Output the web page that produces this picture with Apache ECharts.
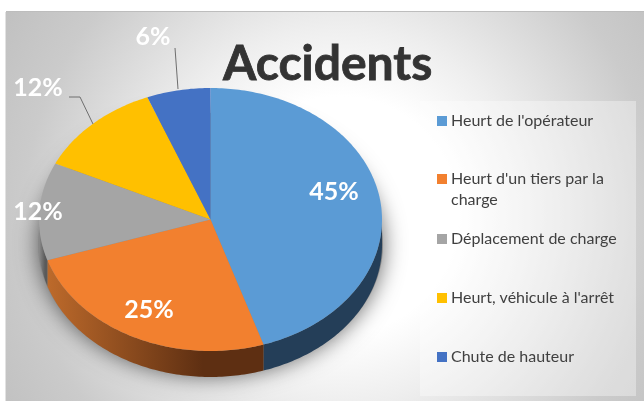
<!DOCTYPE html>
<html lang="fr">
  <head>
    <meta charset="UTF-8" />
    <title>Accidents</title>
    <script src="https://cdn.jsdelivr.net/npm/echarts@6/dist/echarts.min.js"></script>
    <style>
      html, body { margin: 0; padding: 0; background: #fff; }
      #main { width: 644px; height: 401px; }
    </style>
  </head>

  <body>
    <div id="main"></div>

    <script>
      // données
      var categories = [
        "Heurt de l'opérateur",
        "Heurt d'un tiers par la charge",
        "Déplacement de charge",
        "Heurt, véhicule à l'arrêt",
        "Chute de hauteur",
      ];
      var values = [45, 25, 12, 12, 6];
      var colors = ["#5b9bd5", "#f2802f", "#a5a5a5", "#ffc000", "#4472c4"];

      // mise en page du camembert (ellipse + épaisseur)
      var cx = 210.5, cy = 219.5, rx = 171.5, ry = 131.5, depth = 26;
      var labelPos = [[334, 192], [149, 310], [38, 212], [38, 88], [153, 37]];
      var legendTops = [113, 171, 231, 290, 349];
      var total = values.reduce(function (a, b) { return a + b; }, 0);

      // couleurs de la tranche 3D : [gauche, droite]
      var wallColors = [
        ["#243e58", "#243e58"],
        ["#bd6a2b", "#5e2f12"],
        ["#8c8c8c", "#5a5a5a"],
        ["#000", "#000"],
        ["#000", "#000"],
      ];

      function pt(a, dy) {
        return [cx + rx * Math.sin(a), cy - ry * Math.cos(a) + (dy || 0)];
      }

      function arcPoints(a0, a1, dy) {
        var n = Math.max(2, Math.ceil(Math.abs(a1 - a0) * 60));
        var pts = [];
        for (var i = 0; i <= n; i++) pts.push(pt(a0 + ((a1 - a0) * i) / n, dy));
        return pts;
      }

      function sliceSeries(name, idx) {
        return {
          type: "custom",
          name: name,
          coordinateSystem: "none",
          itemStyle: { color: colors[idx] },
          z: 3,
          data: [[values.slice(0, idx).reduce(function (a, b) { return a + b; }, 0), values[idx]]],
          renderItem: function (params, api) {
            var a0 = (api.value(0) / total) * 2 * Math.PI;
            var a1 = ((api.value(0) + api.value(1)) / total) * 2 * Math.PI;
            var children = [];
            // partie avant visible : entre 90° et 270°
            var w0 = Math.max(a0, Math.PI / 2), w1 = Math.min(a1, (3 * Math.PI) / 2);
            if (w1 > w0) {
              var left = pt(w1)[0], right = pt(w0)[0];
              children.push({
                type: "polygon",
                shape: { points: arcPoints(w0, w1, 0).concat(arcPoints(w1, w0, depth)) },
                style: {
                  fill: new echarts.graphic.LinearGradient(left, 0, right, 0, [
                    { offset: 0, color: wallColors[idx][0] },
                    { offset: 0.72, color: wallColors[idx][1] },
                    { offset: 1, color: wallColors[idx][1] },
                  ], true),
                },
              });
            }
            children.push({
              type: "polygon",
              shape: { points: [[cx, cy]].concat(arcPoints(a0, a1, 0)) },
              style: { fill: colors[idx] },
            });
            return { type: "group", children: children };
          },
        };
      }

      var series = categories.map(sliceSeries);

      // ombre sous le camembert
      series.unshift({
        type: "custom",
        coordinateSystem: "none",
        z: 2,
        data: [[0]],
        renderItem: function () {
          return {
            type: "ellipse",
            shape: { cx: cx, cy: cy + depth - 1, rx: rx + 1, ry: ry },
            style: {
              fill: "#888",
              shadowBlur: 22,
              shadowColor: "rgba(0,0,0,0.6)",
            },
          };
        },
      });

      var mCharts = echarts.init(document.getElementById("main"), null, { renderer: "canvas" });

      var option = {
        animation: false,
        title: {
          text: "Accidents",
          left: 223,
          top: 41,
          padding: 0,
          textStyle: {
            fontFamily: "Lato",
            fontWeight: "bold",
            fontSize: 48,
            color: "#333",
            textBorderColor: "#333",
            textBorderWidth: 0.8,
          },
        },
        legend: categories.map(function (name, i) {
          return {
            data: [name],
            left: 437,
            top: legendTops[i],
            padding: 0,
            itemWidth: 10,
            itemHeight: 10,
            itemGap: 0,
            icon: "rect",
            formatter: function (n) { return n.replace(" la charge", " la"); },
            textStyle: { fontFamily: "Lato", fontSize: 16, color: "#404040", padding: [0, 0, 0, -1] },
          };
        }),
        series: series,
        graphic: [
          {
            type: "rect",
            z: -2,
            shape: { x: 6, y: 12, width: 638, height: 389 },
            style: {
              fill: new echarts.graphic.RadialGradient(340, 215, 395, [
                { offset: 0, color: "#ffffff" },
                { offset: 0.3, color: "#ffffff" },
                { offset: 0.48, color: "#eeeeee" },
                { offset: 0.8, color: "#cbcbcb" },
                { offset: 1, color: "#c0c0c0" },
              ], true),
            },
          },
          {
            type: "line",
            z: -1,
            shape: { x1: 6, y1: 11.5, x2: 644, y2: 11.5 },
            style: { stroke: "#bdbdbd", lineWidth: 1 },
          },
          {
            type: "line",
            z: -1,
            shape: { x1: 5.5, y1: 12, x2: 5.5, y2: 401 },
            style: { stroke: "#e2e2e2", lineWidth: 1 },
          },
          {
            type: "rect",
            z: -1,
            shape: { x: 420, y: 101, width: 216, height: 295 },
            style: { fill: "rgba(255,255,255,0.35)" },
          },
          {
            type: "text",
            z: 10,
            style: { x: 451, y: 192, text: "charge", fontFamily: "Lato", fontSize: 16, fill: "#404040" },
          },
          {
            type: "polyline",
            z: 10,
            shape: { points: [[69, 97], [80, 97], [93, 124]] },
            style: { stroke: "#6e6e6e", lineWidth: 1, fill: null },
          },
          {
            type: "polyline",
            z: 10,
            shape: { points: [[175, 48], [178, 89]] },
            style: { stroke: "#6e6e6e", lineWidth: 1, fill: null },
          },
        ].concat(
          values.map(function (v, i) {
            return {
              type: "text",
              z: 10,
              style: {
                x: labelPos[i][0],
                y: labelPos[i][1],
                text: v + "%",
                align: "center",
                verticalAlign: "middle",
                fontFamily: "Lato",
                fontWeight: "bold",
                fontSize: 25,
                fill: "#fff",
              },
            };
          })
        ),
      };
      mCharts.setOption(option);
    </script>
  </body>
</html>
